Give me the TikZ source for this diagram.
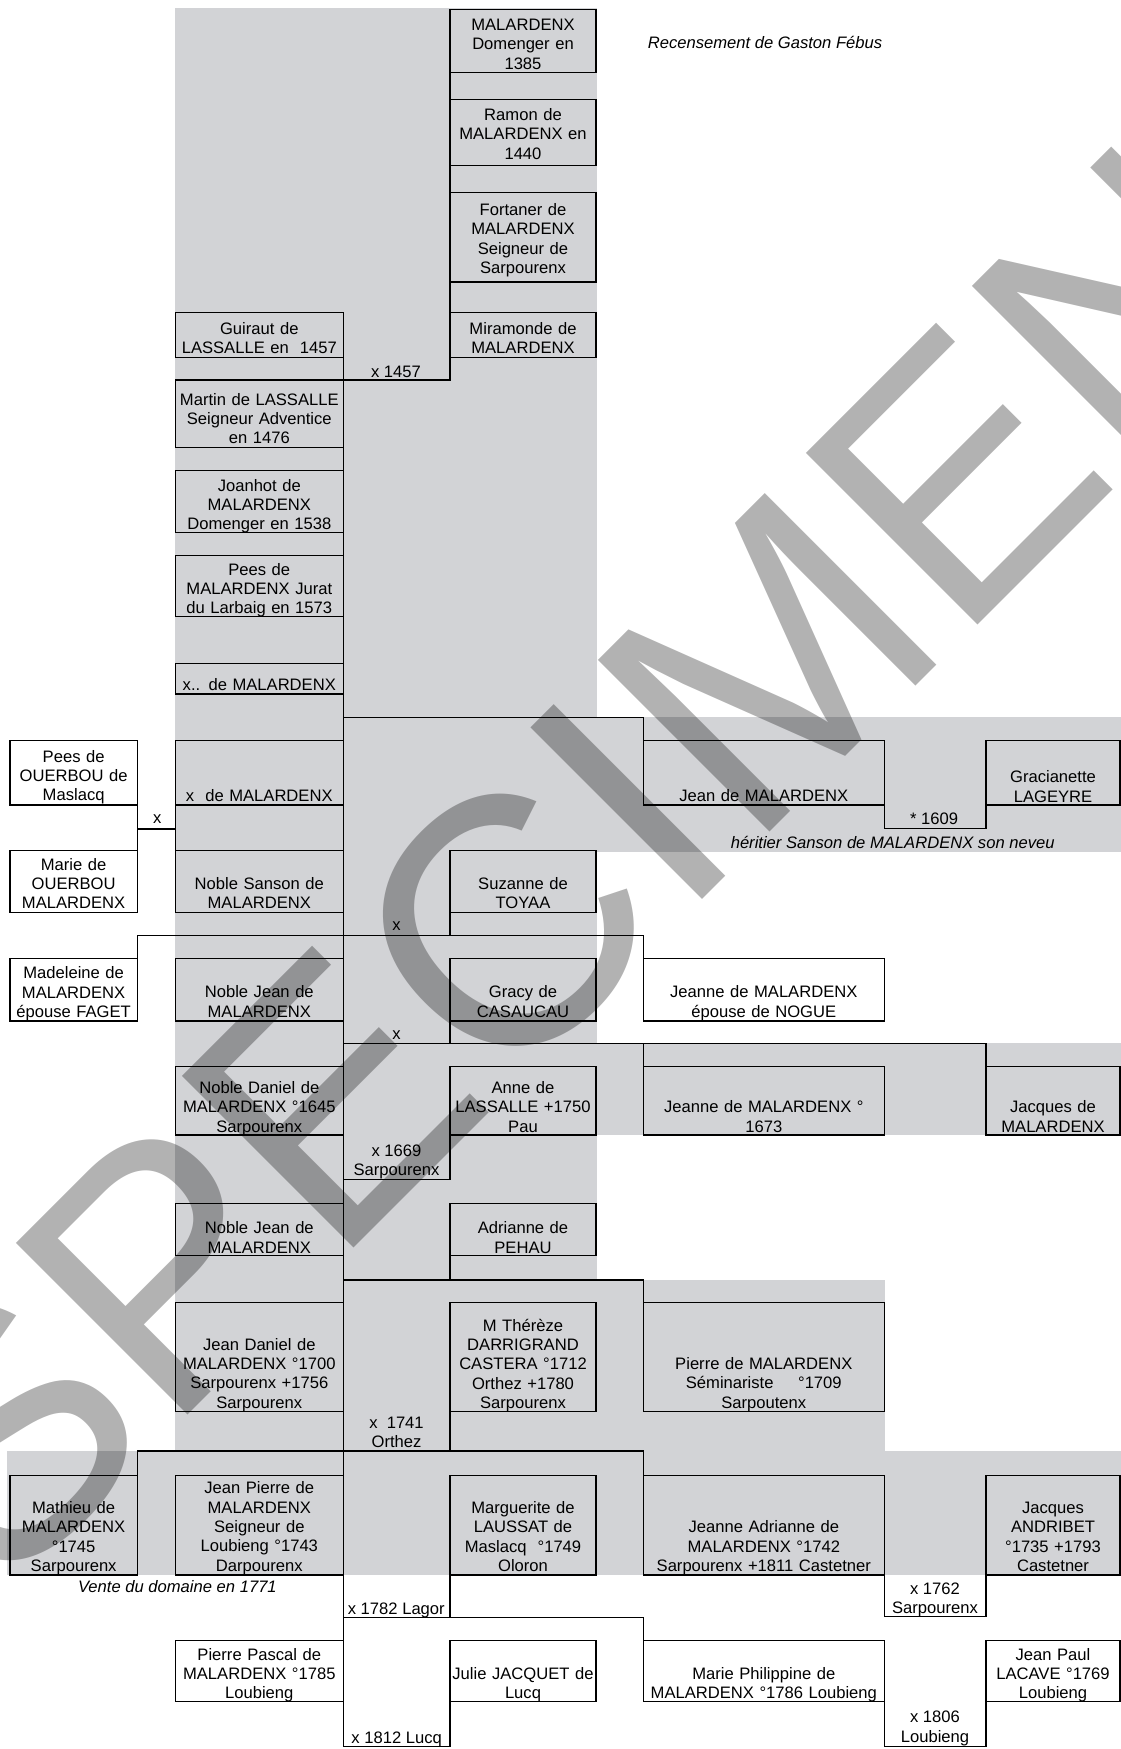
\documentclass[tikz,border=0pt]{standalone}
\usepackage{fontspec}
\setmainfont{Liberation Sans}

\definecolor{cellgray}{RGB}{210,211,214}
\newcommand{\pfont}{\fontsize{16.6}{19.4}\selectfont}
\newcommand{\wmfont}{\fontsize{352.8}{360}\selectfont}

\begin{document}
\begin{tikzpicture}[
  x=1pt, y=-1pt,
  pbox/.style={draw, line width=1.5pt, inner sep=0pt, outer sep=0pt, anchor=north west, align=center, font=\pfont},
  colL/.style={pbox, text width=168pt},
  colR/.style={pbox, text width=146pt},
  colW/.style={pbox, text width=241pt},
  colE/.style={pbox, text width=134pt},
  colF/.style={pbox, text width=127.3pt},
  hd/.style 2 args={text height=#1pt, text depth=#2pt},
  lbl/.style={inner sep=0pt, align=center, font=\pfont, execute at begin node=\strut, execute at end node=\strut},
  link/.style={line width=1.1pt},
  wmark/.style={anchor=base west, rotate=45, inner sep=0pt, font=\wmfont, text=black, text opacity=0.3}
]
  \useasboundingbox (0,0) rectangle (1121,1749);

  % Shaded cells
  \fill[cellgray] (175.3,8.3) rectangle (596.5,1451);
  \fill[cellgray] (596,717.3) rectangle (1121,851.7);
  \fill[cellgray] (596,1043.3) rectangle (1121,1135);
  \fill[cellgray] (596,1280) rectangle (884.5,1451);
  \fill[cellgray] (7,1451) rectangle (1121,1575);

  % Persons
  \node[colR, hd={21}{42.4}] (dom) at (450,9.3) {MALARDENX\\Domenger en\\1385};
  \node[colR, hd={21}{45.4}] (ramon) at (450,99.3) {Ramon de\\MALARDENX en\\1440};
  \node[colR, hd={22.6}{66.7}] (fortaner) at (450,192.7) {Fortaner de\\MALARDENX\\Seigneur de\\Sarpourenx};
  \node[colR, hd={22}{23.4}] (miramonde) at (450,312.3) {Miramonde de\\MALARDENX};
  \node[colL, hd={22}{23.4}] (guiraut) at (175.3,312.3) {Guiraut de\\LASSALLE en\ \ 1457};
  \node[colL, hd={25}{42.7}] (martin) at (175.3,380) {Martin de LASSALLE\\Seigneur Adventice\\en 1476};
  \node[colL, hd={20.3}{41.7}] (joanhot) at (175.3,470.7) {Joanhot de\\MALARDENX\\Domenger en 1538};
  \node[colL, hd={19.3}{41.7}] (peesm) at (175.3,555.7) {Pees de\\MALARDENX Jurat\\du Larbaig en 1573};
  \node[colL, hd={27}{3.7}] (xxm) at (175.3,663.3) {x.. de MALARDENX};
  \node[colL, hd={61}{3.3}] (xm) at (175.3,740.7) {x\ \ de MALARDENX};
  \node[colW, hd={61}{3.3}] (jeanm) at (643.3,740.7) {Jean de MALARDENX};
  \node[colE, hd={42}{22.3}] (gracianette) at (986,740.7) {Gracianette\\LAGEYRE};
  \node[colF, hd={21.3}{43}] (peeso) at (10,740.7) {Pees de\\OUERBOU de\\Maslacq};
  \node[colF, hd={19.3}{42.3}] (marie) at (10,850.7) {Marie de\\OUERBOU\\MALARDENX};
  \node[colL, hd={38.6}{23}] (sanson) at (175.3,850.7) {Noble Sanson de\\MALARDENX};
  \node[colR, hd={38.6}{23}] (suzanne) at (450,850.7) {Suzanne de\\TOYAA};
  \node[colF, hd={20.4}{42.3}] (madeleine) at (10,958.3) {Madeleine de\\MALARDENX\\épouse FAGET};
  \node[colL, hd={39.4}{23.3}] (njean) at (175.3,958.3) {Noble Jean de\\MALARDENX};
  \node[colR, hd={39.4}{23.3}] (gracy) at (450,958.3) {Gracy de\\CASAUCAU};
  \node[colW, hd={39.4}{23.3}] (jeanneno) at (643.3,958.3) {Jeanne de MALARDENX\\épouse de NOGUE};
  \node[colL, hd={26.6}{41.7}] (daniel) at (175.3,1066.7) {Noble Daniel de\\MALARDENX °1645\\Sarpourenx};
  \node[colR, hd={26.6}{41.7}] (anne) at (450,1066.7) {Anne de\\LASSALLE +1750\\Pau};
  \node[colW, hd={46}{22.3}] (jeanne73) at (643.3,1066.7) {Jeanne de MALARDENX °\\1673};
  \node[colE, hd={46}{22.3}] (jacquesm) at (986,1066.7) {Jacques de\\MALARDENX};
  \node[colL, hd={30.4}{22}] (njeanb) at (175.3,1203.3) {Noble Jean de\\MALARDENX};
  \node[colR, hd={30.4}{22}] (adrianne) at (450,1203.3) {Adrianne de\\PEHAU};
  \node[colL, hd={47.3}{61.7}] (jdaniel) at (175.3,1302.7) {Jean Daniel de\\MALARDENX °1700\\Sarpourenx +1756\\Sarpourenx};
  \node[colR, hd={28.3}{80.7}] (therese) at (450,1302.7) {M Thérèze\\DARRIGRAND\\CASTERA °1712\\Orthez +1780\\Sarpourenx};
  \node[colW, hd={66.6}{42.4}] (pierre) at (643.3,1302.7) {Pierre de MALARDENX\\Séminariste\hspace{24.6pt}°1709\\Sarpoutenx};
  \node[colF, hd={37.6}{61.7}] (mathieu) at (10,1475.7) {Mathieu de\\MALARDENX\\°1745\\Sarpourenx};
  \node[colL, hd={18}{81.3}] (jpierre) at (175.3,1475.7) {Jean Pierre de\\MALARDENX\\Seigneur de\\Loubieng °1743\\Darpourenx};
  \node[colR, hd={37.6}{61.7}] (marguerite) at (450,1475.7) {Marguerite de\\LAUSSAT de\\Maslacq\ \ °1749\\Oloron};
  \node[colW, hd={57}{42.3}] (jadrianne) at (643.3,1475.7) {Jeanne Adrianne de\\MALARDENX °1742\\Sarpourenx +1811 Castetner};
  \node[colE, hd={37.6}{61.7}] (andribet) at (986,1475.7) {Jacques\\ANDRIBET\\°1735 +1793\\Castetner};
  \node[colL, hd={19.3}{41.7}] (ppascal) at (175.3,1640.7) {Pierre Pascal de\\MALARDENX °1785\\Loubieng};
  \node[colR, hd={38.6}{22.4}] (julie) at (450,1640.7) {Julie JACQUET de\\Lucq};
  \node[colW, hd={38.6}{22.4}] (mphil) at (643.3,1640.7) {Marie Philippine de\\MALARDENX °1786 Loubieng};
  \node[colE, hd={19.3}{41.7}] (jpaul) at (986,1640.7) {Jean Paul\\LACAVE °1769\\Loubieng};

  % Links
  \coordinate (jA) at (343.3,717.3);
  \coordinate (mOu) at (137.3,829);
  \coordinate (mS) at (450,935.7);
  \coordinate (mJ) at (450,1043.3);
  \coordinate (m69) at (450,1179.3);
  \coordinate (mA) at (450,1280);
  \coordinate (m41) at (450,1451);
  \coordinate (m82) at (450,1617.3);

  \draw[link] (dom.north west) |- (martin.north east);
  \draw[link] (guiraut.north east) -- (ppascal.south east) -- ++(0,45) -| (julie.south west);
  \draw[link] (jA) -| (jeanm.north west);
  \draw[link] (jeanm.south east) -- ++(0,23.3) -| (gracianette.south west);
  \draw[link] (peeso.south east) -- (marie.north east);
  \draw[link] (mOu) -- (mOu -| xm.west);
  \draw[link] (xm.south west) -- (sanson.north west);
  \draw[link] (suzanne.south west) -- (mS);
  \draw[link] (madeleine.north east) |- (mS) -| (jeanneno.north west);
  \draw[link] (gracy.south west) -- (mJ);
  \draw[link] (mJ -| njean.east) -| (jacquesm.north west);
  \draw[link] (mJ -| jeanne73.west) -- (jeanne73.north west);
  \draw[link] (anne.south west) -- (m69) -- (m69 -| daniel.east);
  \draw[link] (adrianne.south west) -- (mA);
  \draw[link] (mA -| njeanb.east) -| (pierre.north west);
  \draw[link] (therese.south west) -- (m41);
  \draw[link] (mathieu.north east) |- (m41) -| (jadrianne.north west);
  \draw[link] (marguerite.south west) -- (m82);
  \draw[link] (m82 -| jpierre.east) -| (mphil.north west);
  \draw[link] (jadrianne.south east) -- ++(0,41.6) -| (andribet.south west);
  \draw[link] (mphil.south east) -- ++(0,45) -| (jpaul.south west);

  % Labels
  \node[lbl, font=\pfont\itshape] (recens) at (765,44.5) {Recensement de Gaston Fébus};
  \node[lbl] (x1457) at (396,373.8) {x 1457};
  \node[lbl] (xou) at (157.3,819.7) {x};
  \node[lbl] (s1609) at (934,820.4) {* 1609};
  \node[lbl, font=\pfont\itshape] (heritier) at (892.7,844.4) {héritier Sanson de MALARDENX son neveu};
  \node[lbl] (xsz) at (396.5,926.4) {x};
  \node[lbl] (xgr) at (396.5,1035.4) {x};
  \node[lbl] (x1669) at (396.5,1163.3) {x 1669\\Sarpourenx};
  \node[lbl] (x1741) at (396.5,1435) {x\ \ 1741\\Orthez};
  \node[lbl, font=\pfont\itshape] (vente) at (177.4,1588.8) {Vente du domaine en 1771};
  \node[lbl] (x1782) at (396.3,1610.4) {x 1782 Lagor};
  \node[lbl] (x1762) at (935,1600.9) {x 1762\\Sarpourenx};
  \node[lbl] (x1812) at (396.7,1739.4) {x 1812 Lucq};
  \node[lbl] (x1806) at (935,1729.4) {x 1806\\Loubieng};

  % Watermark
  \begin{scope}
    \clip (0,0) rectangle (1121,1749);
    \node[wmark] (specimen) at (0.5,1601.7) {SPECIMEN};
  \end{scope}
\end{tikzpicture}
\end{document}
